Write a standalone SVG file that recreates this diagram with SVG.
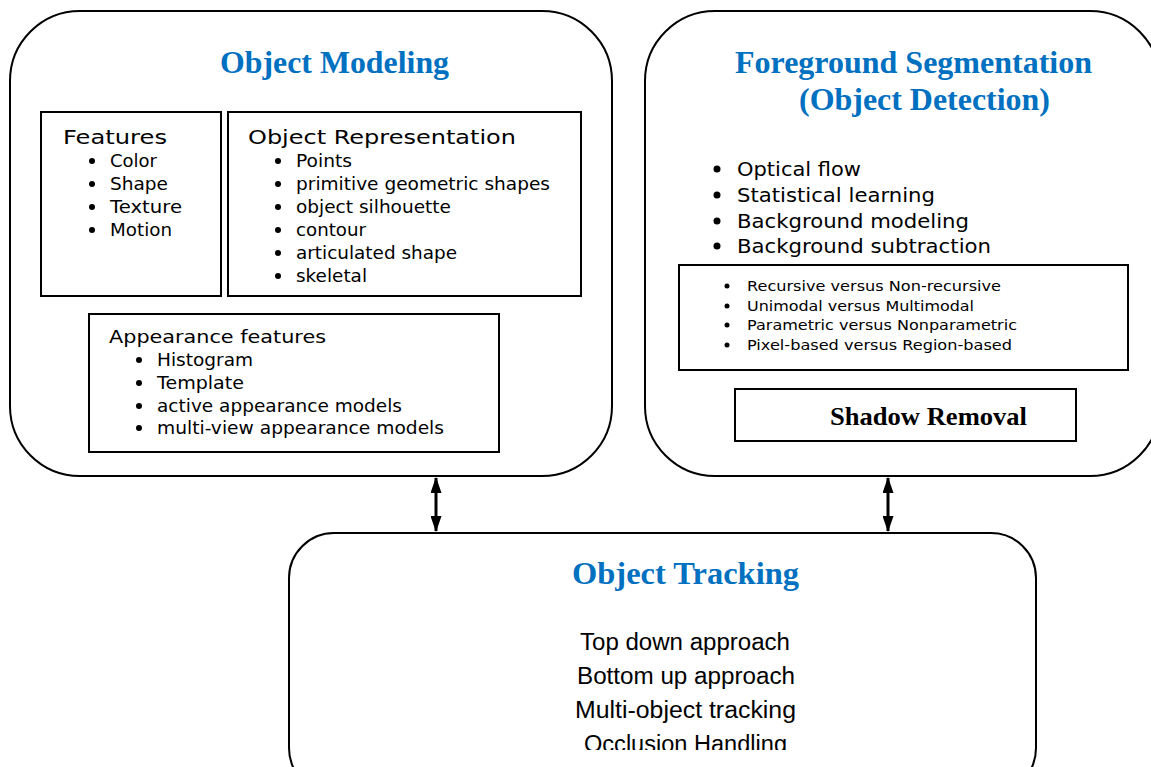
<svg xmlns="http://www.w3.org/2000/svg" width="1151" height="767" viewBox="0 0 1151 767">
<style>
.big{fill:#fff;stroke:#000;stroke-width:2}
.box{fill:#fff;stroke:#000;stroke-width:2}
.title{font-family:"Liberation Serif","Times New Roman",serif;font-weight:bold;fill:#0070C0;font-size:32px}
.sr{font-family:"Liberation Serif","Times New Roman",serif;font-weight:bold;fill:#000;font-size:26px}
.t{font-family:"DejaVu Sans","Liberation Sans",sans-serif;fill:#000}
.h{font-size:19px}
.i{font-size:17px}
.r{font-size:20px}
.s{font-size:14px}
.b{font-family:"Liberation Sans",Arial,sans-serif;fill:#000;font-size:23px}
.dot{fill:#000}
.conn{stroke:#000;stroke-width:3;fill:none}
</style>
<defs>
<marker id="ah" viewBox="0 0 16 11" refX="15" refY="5.5" markerWidth="16" markerHeight="11" orient="auto-start-reverse" markerUnits="userSpaceOnUse">
<path d="M0,0 L16,5.5 L0,11 z" fill="#000"/>
</marker>
<clipPath id="clipB"><rect x="0" y="0" width="1151" height="750"/></clipPath>
</defs>
<rect width="1151" height="767" fill="#fff"/>

<g id="object-modeling">
<rect class="big" x="10" y="11" width="602" height="465" rx="70" ry="70"/>
<text class="title" x="220" y="73" textLength="229" lengthAdjust="spacingAndGlyphs">Object Modeling</text>
<g id="features">
<rect class="box" x="41" y="112" width="180" height="184"/>
<text class="t h" x="63" y="144" textLength="104" lengthAdjust="spacingAndGlyphs">Features</text>
<circle class="dot" cx="92" cy="161" r="3"/><text class="t i" x="110" y="167" textLength="47" lengthAdjust="spacingAndGlyphs">Color</text>
<circle class="dot" cx="92" cy="184" r="3"/><text class="t i" x="110" y="190" textLength="58" lengthAdjust="spacingAndGlyphs">Shape</text>
<circle class="dot" cx="92" cy="207" r="3"/><text class="t i" x="110" y="213" textLength="72" lengthAdjust="spacingAndGlyphs">Texture</text>
<circle class="dot" cx="92" cy="230" r="3"/><text class="t i" x="110" y="236" textLength="62" lengthAdjust="spacingAndGlyphs">Motion</text>
</g>
<g id="object-representation">
<rect class="box" x="228" y="112" width="353" height="184"/>
<text class="t h" x="248" y="144" textLength="268" lengthAdjust="spacingAndGlyphs">Object Representation</text>
<circle class="dot" cx="278" cy="161" r="3"/><text class="t i" x="296" y="167" textLength="56" lengthAdjust="spacingAndGlyphs">Points</text>
<circle class="dot" cx="278" cy="184" r="3"/><text class="t i" x="296" y="190" textLength="254" lengthAdjust="spacingAndGlyphs">primitive geometric shapes</text>
<circle class="dot" cx="278" cy="207" r="3"/><text class="t i" x="296" y="213" textLength="155" lengthAdjust="spacingAndGlyphs">object silhouette</text>
<circle class="dot" cx="278" cy="230" r="3"/><text class="t i" x="296" y="236" textLength="70" lengthAdjust="spacingAndGlyphs">contour</text>
<circle class="dot" cx="278" cy="253" r="3"/><text class="t i" x="296" y="259" textLength="161" lengthAdjust="spacingAndGlyphs">articulated shape</text>
<circle class="dot" cx="278" cy="276" r="3"/><text class="t i" x="296" y="282" textLength="71" lengthAdjust="spacingAndGlyphs">skeletal</text>
</g>
<g id="appearance-features">
<rect class="box" x="89" y="314" width="410" height="138"/>
<text class="t i" x="109" y="343" textLength="217" lengthAdjust="spacingAndGlyphs">Appearance features</text>
<circle class="dot" cx="139" cy="360" r="3"/><text class="t i" x="157" y="366" textLength="96" lengthAdjust="spacingAndGlyphs">Histogram</text>
<circle class="dot" cx="139" cy="383" r="3"/><text class="t i" x="157" y="389" textLength="87" lengthAdjust="spacingAndGlyphs">Template</text>
<circle class="dot" cx="139" cy="406" r="3"/><text class="t i" x="157" y="412" textLength="245" lengthAdjust="spacingAndGlyphs">active appearance models</text>
<circle class="dot" cx="139" cy="428" r="3"/><text class="t i" x="157" y="434" textLength="287" lengthAdjust="spacingAndGlyphs">multi-view appearance models</text>
</g>
</g>

<g id="foreground-segmentation">
<rect class="big" x="645" y="11" width="515" height="465" rx="70" ry="70"/>
<text class="title" x="735" y="73" textLength="357" lengthAdjust="spacingAndGlyphs">Foreground Segmentation</text>
<text class="title" x="799" y="110" textLength="251" lengthAdjust="spacingAndGlyphs">(Object Detection)</text>
<circle class="dot" cx="717" cy="169" r="3.5"/><text class="t r" x="737" y="176" textLength="124" lengthAdjust="spacingAndGlyphs">Optical flow</text>
<circle class="dot" cx="717" cy="195" r="3.5"/><text class="t r" x="737" y="202" textLength="198" lengthAdjust="spacingAndGlyphs">Statistical learning</text>
<circle class="dot" cx="717" cy="221" r="3.5"/><text class="t r" x="737" y="228" textLength="232" lengthAdjust="spacingAndGlyphs">Background modeling</text>
<circle class="dot" cx="717" cy="246" r="3.5"/><text class="t r" x="737" y="253" textLength="254" lengthAdjust="spacingAndGlyphs">Background subtraction</text>
<g id="bg-subtraction-types">
<rect class="box" x="679" y="265" width="449" height="105"/>
<circle class="dot" cx="727" cy="286" r="2.5"/><text class="t s" x="747" y="291" textLength="254" lengthAdjust="spacingAndGlyphs">Recursive versus Non-recursive</text>
<circle class="dot" cx="727" cy="306" r="2.5"/><text class="t s" x="747" y="311" textLength="227" lengthAdjust="spacingAndGlyphs">Unimodal versus Multimodal</text>
<circle class="dot" cx="727" cy="325" r="2.5"/><text class="t s" x="747" y="330" textLength="270" lengthAdjust="spacingAndGlyphs">Parametric versus Nonparametric</text>
<circle class="dot" cx="727" cy="345" r="2.5"/><text class="t s" x="747" y="350" textLength="265" lengthAdjust="spacingAndGlyphs">Pixel-based versus Region-based</text>
</g>
<g id="shadow-removal">
<rect class="box" x="735" y="389" width="341" height="52"/>
<text class="sr" x="830" y="425" textLength="197" lengthAdjust="spacingAndGlyphs">Shadow Removal</text>
</g>
</g>

<g id="object-tracking">
<rect class="big" x="289" y="533" width="747" height="260" rx="45" ry="45"/>
<text class="title" x="572" y="584" textLength="227" lengthAdjust="spacingAndGlyphs">Object Tracking</text>
<text class="b" x="580" y="650" textLength="210" lengthAdjust="spacingAndGlyphs">Top down approach</text>
<text class="b" x="577" y="684" textLength="218" lengthAdjust="spacingAndGlyphs">Bottom up approach</text>
<text class="b" x="575" y="718" textLength="221" lengthAdjust="spacingAndGlyphs">Multi-object tracking</text>
<text class="b" x="584" y="752" textLength="203" lengthAdjust="spacingAndGlyphs" clip-path="url(#clipB)">Occlusion Handling</text>
</g>

<g id="connectors">
<line class="conn" x1="436" y1="478" x2="436" y2="531" marker-start="url(#ah)" marker-end="url(#ah)"/>
<line class="conn" x1="888" y1="478" x2="888" y2="531" marker-start="url(#ah)" marker-end="url(#ah)"/>
</g>
</svg>
